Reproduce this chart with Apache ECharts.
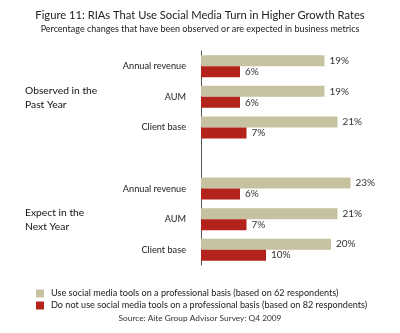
<!DOCTYPE html>
<html><head><meta charset="utf-8">
<script src="https://cdn.jsdelivr.net/npm/echarts@6/dist/echarts.min.js"></script>
<style>html,body{margin:0;padding:0;background:#fff}#c{width:400px;height:333px}</style>
</head><body><div id="c"></div>
<script>
const periods = ['Observed in the\nPast Year', 'Expect in the\nNext Year'];
const metrics = ['Annual revenue', 'AUM', 'Client base'];
const useValues = [19, 19, 21, 23, 21, 20];
const notUseValues = [6, 6, 7, 6, 7, 10];
const seriesNames = ['Use social media tools on a professional basis (based on 62 respondents)',
  'Do not use social media tools on a professional basis (based on 82 respondents)'];
const titleText = 'Figure 11: RIAs That Use Social Media Turn in Higher Growth Rates';
const subText = 'Percentage changes that have been observed or are expected in business metrics';
const sourceText = 'Source: Aite Group Advisor Survey: Q4 2009';

// build category axis: 3 metrics, spacer, 3 metrics
const cats = [], labels = [], d1 = [], d2 = [];
periods.forEach((p, pi) => {
  if (pi > 0) { cats.push('gap'); labels.push(''); d1.push('-'); d2.push('-'); }
  metrics.forEach((m, mi) => {
    cats.push(pi + '_' + m); labels.push(m);
    d1.push(useValues[pi * 3 + mi]); d2.push(notUseValues[pi * 3 + mi]);
  });
});
const FONT = 'Lato';
const chart = echarts.init(document.getElementById('c'));
chart.setOption({
  animation: false,
  title: {
    text: titleText, subtext: subText, left: 'center', top: 5, itemGap: 4,
    textStyle: { fontFamily: FONT, fontSize: 11.2, fontWeight: 'normal', color: '#222' },
    subtextStyle: { fontFamily: FONT, fontSize: 9, color: '#222' }
  },
  grid: { left: 201, top: 51, width: 195, height: 214, containLabel: false },
  xAxis: { type: 'value', min: 0, max: 30, show: false },
  yAxis: {
    type: 'category', inverse: true, data: cats,
    axisLine: { lineStyle: { color: '#555', width: 1 } },
    axisTick: { show: false },
    axisLabel: { margin: 15, fontFamily: FONT, fontSize: 9.2, color: '#222',
      formatter: (v, i) => labels[i] }
  },
  legend: {
    orient: 'vertical', left: 31, top: 284, itemWidth: 8, itemHeight: 8, itemGap: 3,
    icon: 'rect', selectedMode: false,
    textStyle: { fontFamily: FONT, fontSize: 9.1, color: '#222', padding: [0, 0, 0, 2] }
  },
  series: [
    { name: seriesNames[0], type: 'bar', data: d1, barWidth: 11, barGap: '0%',
      itemStyle: { color: '#c6c19f' },
      label: { show: true, position: 'right', distance: 5, formatter: '{c}%',
        fontFamily: FONT, fontSize: 10, color: '#333' } },
    { name: seriesNames[1], type: 'bar', data: d2, barWidth: 11,
      itemStyle: { color: '#b3221b' },
      label: { show: true, position: 'right', distance: 5, formatter: '{c}%',
        fontFamily: FONT, fontSize: 10, color: '#333' } }
  ],
  graphic: [
    { type: 'text', left: 25, top: 84, style: { text: periods[0], fontFamily: FONT, fontSize: 10.3, lineHeight: 14, fill: '#111' } },
    { type: 'text', left: 25, top: 206, style: { text: periods[1], fontFamily: FONT, fontSize: 10.3, lineHeight: 14, fill: '#111' } },
    { type: 'text', left: 'center', top: 314, style: { text: sourceText, fontFamily: FONT, fontSize: 8.3, fill: '#333' } }
  ]
});
</script></body></html>
